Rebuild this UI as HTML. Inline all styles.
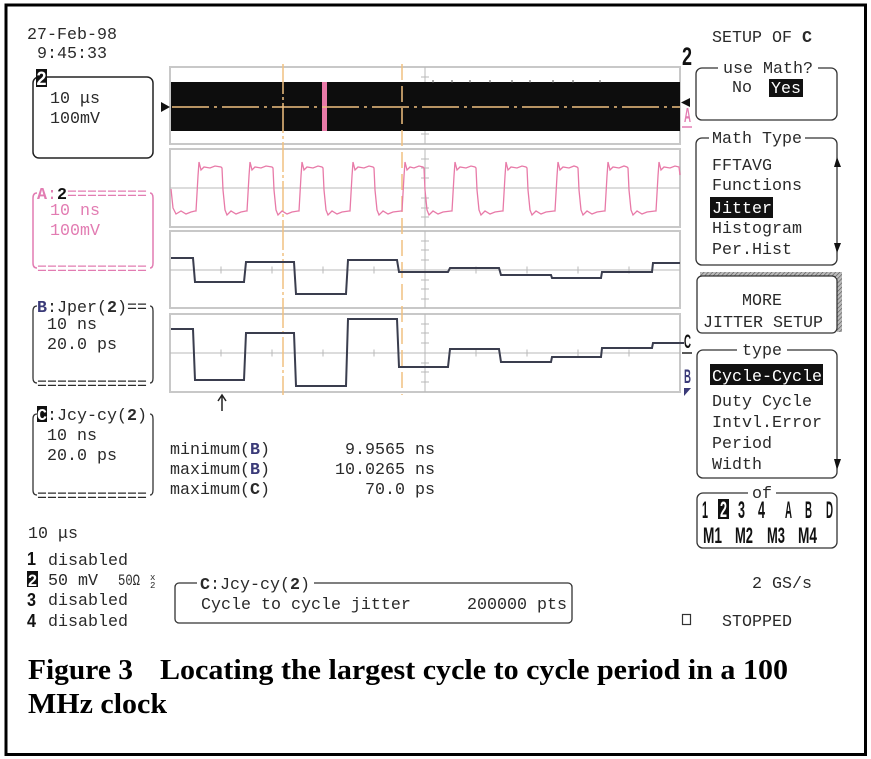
<!DOCTYPE html>
<html><head><meta charset="utf-8"><style>
html,body{margin:0;padding:0;background:#fff;}
svg{display:block;}
text{font-family:"Liberation Mono",monospace;font-size:16.67px;fill:#2a2a2a;}
.b{font-weight:bold;}
.pk{fill:#e27cb2;}
.nv{fill:#3a3a78;}
.w{fill:#fff;}
.sb{font-family:"Liberation Sans",sans-serif;font-weight:bold;}
.cap{font-family:"Liberation Serif",serif;font-weight:bold;font-size:28px;fill:#000;}
</style></head><body>
<svg width="871" height="759" viewBox="0 0 871 759" xmlns="http://www.w3.org/2000/svg">
<defs>
<pattern id="hat" width="3" height="3" patternUnits="userSpaceOnUse" patternTransform="rotate(45)">
<rect width="3" height="3" fill="#bbb"/><line x1="0" y1="0" x2="0" y2="3" stroke="#555" stroke-width="1.2"/>
</pattern>
</defs>
<rect x="0" y="0" width="871" height="759" fill="#fff"/>
<rect x="6" y="5" width="859.5" height="749.5" fill="none" stroke="#000" stroke-width="3"/>

<!-- top-left date -->
<text x="27" y="39">27-Feb-98</text>
<text x="37" y="58">9:45:33</text>

<!-- box 1 -->
<rect x="33" y="77" width="120" height="81" rx="6" fill="none" stroke="#222" stroke-width="1.5"/>
<rect x="36" y="69" width="11" height="18" fill="#111"/>
<text x="36.5" y="85" class="sb w" style="font-size:19px" textLength="10" lengthAdjust="spacingAndGlyphs">2</text>
<text x="50" y="103">10 μs</text>
<text x="50" y="123">100mV</text>

<!-- box 2 pink -->
<path d="M37,193 Q33,193 33,198 L33,263 Q33,268 37,268 M150,193 Q153,193 153,198 L153,263 Q153,268 150,268" fill="none" stroke="#e27cb2" stroke-width="1.5"/>
<text y="199"><tspan x="37" class="b pk">A</tspan><tspan class="pk">:</tspan><tspan class="b" fill="#111">2</tspan><tspan class="pk">========</tspan></text>
<text x="50" y="215" class="pk">10 ns</text>
<text x="50" y="235" class="pk">100mV</text>
<text x="37" y="274" class="pk">===========</text>

<!-- box 3 -->
<path d="M37,306 Q33,306 33,311 L33,378 Q33,383 37,383 M150,306 Q153,306 153,311 L153,378 Q153,383 150,383" fill="none" stroke="#333" stroke-width="1.3"/>
<text y="312"><tspan x="37" class="b nv">B</tspan><tspan>:Jper(</tspan><tspan class="b">2</tspan><tspan>)==</tspan></text>
<text x="47" y="329">10 ns</text>
<text x="47" y="349">20.0 ps</text>
<text x="37" y="389">===========</text>

<!-- box 4 -->
<path d="M37,414 Q33,414 33,419 L33,490 Q33,495 37,495 M150,414 Q153,414 153,419 L153,490 Q153,495 150,495" fill="none" stroke="#333" stroke-width="1.3"/>
<rect x="37" y="406" width="10" height="16" fill="#111"/>
<text y="420"><tspan x="37" class="b w">C</tspan><tspan>:Jcy-cy(</tspan><tspan class="b">2</tspan><tspan>)</tspan></text>
<text x="47" y="440">10 ns</text>
<text x="47" y="460">20.0 ps</text>
<text x="37" y="501">===========</text>

<!-- panels -->
<g fill="none" stroke="#c8c8c8" stroke-width="2">
<rect x="170" y="67" width="510" height="77"/>
<rect x="170" y="149" width="510" height="78"/>
<rect x="170" y="231" width="510" height="77"/>
<rect x="170" y="314" width="510" height="78"/>
</g>
<g stroke="#b8b8b8" stroke-width="1">
<line x1="425" y1="67" x2="425" y2="144"/>
<line x1="425" y1="149" x2="425" y2="227"/>
<line x1="425" y1="231" x2="425" y2="308"/>
<line x1="425" y1="314" x2="425" y2="392"/>
<line x1="170" y1="188" x2="680" y2="188"/>
<line x1="170" y1="270" x2="680" y2="270"/>
<line x1="170" y1="353" x2="680" y2="353"/>
<path d="M421,77H429M421,134H429
M421,159H429M421,168H429M421,178H429M421,198H429M421,208H429M421,217H429
M421,241H429M421,250H429M421,260H429M421,280H429M421,289H429M421,299H429
M421,324H429M421,333H429M421,343H429M421,363H429M421,372H429M421,382H429
M221,266.5V273.5M272,266.5V273.5M323,266.5V273.5M374,266.5V273.5M476,266.5V273.5M527,266.5V273.5M578,266.5V273.5M629,266.5V273.5
M221,349.5V356.5M272,349.5V356.5M323,349.5V356.5M374,349.5V356.5M476,349.5V356.5M527,349.5V356.5M578,349.5V356.5M629,349.5V356.5"/>
</g>

<!-- black band -->
<rect x="171" y="82" width="509" height="49" fill="#0d0d0d"/>
<rect x="322" y="82" width="5" height="49" fill="#e87aa8"/>
<line x1="172" y1="107" x2="680" y2="107" stroke="#f0c080" stroke-width="1.5" stroke-dasharray="37,5,3,5"/>
<g stroke="#555" stroke-width="1"><path d="M433,80V83M452,80V83M470,80V83M490,80V83M512,80V83M530,80V83M553,80V83M573,80V83M600,80V83"/></g>
<polygon points="161,102 170,107 161,112" fill="#111"/>
<polygon points="690,98 681,102.5 690,107" fill="#111"/>

<!-- cursors -->
<line x1="283" y1="64" x2="283" y2="395" stroke="#f0c080" stroke-width="1.5" stroke-dasharray="30,3,3,3"/>
<line x1="402" y1="64" x2="402" y2="395" stroke="#f0c080" stroke-width="1.5" stroke-dasharray="16,6"/>

<!-- pink waveform -->
<path fill="none" stroke="#e87aa8" stroke-width="1.3" d="M171,189 L173,208 L176,214 L181,211 L186,214 L191,212 L195,211
L196,211 L198,176 L199,162 L201,170 L204,167 L210,168 L215,166 L221,167 L222,168 L223,190 L225,210 L227,215 L231,211 L236,214 L241,212 L246,211
L247,211 L249,176 L250,162 L252,170 L255,167 L261,168 L266,166 L272,167 L273,168 L274,190 L276,210 L278,215 L282,211 L287,214 L292,212 L298,211
L299,211 L301,176 L302,162 L304,170 L307,167 L313,168 L318,166 L322,167 L323,168 L324,190 L326,210 L328,215 L332,211 L337,214 L342,212 L349,211
L350,211 L352,176 L353,162 L355,170 L358,167 L364,168 L369,166 L373,167 L374,168 L375,190 L377,210 L379,215 L383,211 L388,214 L393,212 L401,211
L402,211 L404,176 L405,162 L407,170 L410,167 L414,168 L419,166 L423,167 L424,168 L425,190 L427,210 L429,215 L433,211 L438,214 L443,212 L451,211
L452,211 L454,176 L455,162 L457,170 L460,167 L466,168 L471,166 L475,167 L476,168 L477,190 L479,210 L481,215 L485,211 L490,214 L495,212 L502,211
L503,211 L505,176 L506,162 L508,170 L511,167 L517,168 L522,166 L526,167 L527,168 L528,190 L530,210 L532,215 L536,211 L541,214 L546,212 L554,211
L555,211 L557,176 L558,162 L560,170 L563,167 L569,168 L574,166 L577,167 L578,168 L579,190 L581,210 L583,215 L587,211 L592,214 L597,212 L604,211
L605,211 L607,176 L608,162 L610,170 L613,167 L619,168 L624,166 L627,167 L628,168 L629,190 L631,210 L633,215 L637,211 L642,214 L647,212 L655,211
L656,211 L658,176 L659,162 L661,170 L664,167 L670,168 L675,166 L679,167 L680,175"/>

<!-- navy traces -->
<path fill="none" stroke="#3a3d4e" stroke-width="2" d="M171,258 L193,258 L195,282 L244,282 L246,262 L294,262 L296,294 L346,294 L348,260 L397,260 L399,272 L448,272 L450,268 L499,268 L501,275 L551,275 L552,278 L601,278 L602,272 L652,272 L653,263 L680,263"/>
<path fill="none" stroke="#3a3d4e" stroke-width="2" d="M171,329 L193,329 L195,380 L244,380 L246,333 L294,333 L296,386 L346,386 L348,319 L397,319 L399,367 L448,367 L450,349 L499,349 L501,362 L551,362 L552,357 L601,357 L602,348 L652,348 L653,343 L684,343"/>

<!-- arrow -->
<path d="M222,411 L222,396 M218,401 L222,395 L226,401" fill="none" stroke="#222" stroke-width="1.5"/>

<!-- right channel labels -->
<text x="682" y="65" class="sb" style="font-size:25px;fill:#111" textLength="10" lengthAdjust="spacingAndGlyphs">2</text>
<text x="684" y="122" class="sb pk" style="font-size:20px" textLength="7" lengthAdjust="spacingAndGlyphs">A</text>
<line x1="682" y1="127" x2="692" y2="127" stroke="#e27cb2" stroke-width="1.5"/>
<text x="684" y="348" class="sb" style="font-size:19px;fill:#111" textLength="7" lengthAdjust="spacingAndGlyphs">C</text>
<line x1="682" y1="353" x2="692" y2="353" stroke="#222" stroke-width="1.5"/>
<text x="684" y="383" class="sb nv" style="font-size:19px" textLength="7" lengthAdjust="spacingAndGlyphs">B</text>
<polygon points="684,388 691,388 684,396" fill="#3a3a78"/>

<!-- measurements -->
<text x="170" y="454">minimum(<tspan class="b nv">B</tspan>)</text>
<text x="170" y="474">maximum(<tspan class="b nv">B</tspan>)</text>
<text x="170" y="494">maximum(<tspan class="b">C</tspan>)</text>
<text x="435" y="454" text-anchor="end">9.9565 ns</text>
<text x="435" y="474" text-anchor="end">10.0265 ns</text>
<text x="435" y="494" text-anchor="end">70.0 ps</text>

<!-- bottom left -->
<text x="28" y="538">10 μs</text>
<text x="27" y="565" class="sb" style="font-size:18px;fill:#111" textLength="9" lengthAdjust="spacingAndGlyphs">1</text>
<text x="48" y="565">disabled</text>
<rect x="27" y="571" width="11" height="16" fill="#111"/>
<text x="28" y="586" class="sb w" style="font-size:17px" textLength="9" lengthAdjust="spacingAndGlyphs">2</text>
<text x="48" y="585">50 mV</text>
<text x="118" y="585" style="font-size:16px" textLength="22" lengthAdjust="spacingAndGlyphs">50Ω</text>
<text x="150" y="580" style="font-size:9px">x</text>
<text x="150" y="588" style="font-size:9px">2</text>
<text x="27" y="606" class="sb" style="font-size:18px;fill:#111" textLength="9" lengthAdjust="spacingAndGlyphs">3</text>
<text x="48" y="605">disabled</text>
<text x="27" y="627" class="sb" style="font-size:18px;fill:#111" textLength="9" lengthAdjust="spacingAndGlyphs">4</text>
<text x="48" y="626">disabled</text>

<!-- C:Jcy-cy box -->
<rect x="175" y="583" width="397" height="40" rx="4" fill="none" stroke="#333" stroke-width="1.3"/>
<rect x="197" y="575" width="117" height="16" fill="#fff"/>
<text y="589"><tspan x="200" class="b">C</tspan><tspan>:Jcy-cy(</tspan><tspan class="b">2</tspan><tspan>)</tspan></text>
<text x="201" y="609">Cycle to cycle jitter</text>
<text x="567" y="609" text-anchor="end">200000 pts</text>

<!-- right menu -->
<text x="712" y="42">SETUP OF <tspan class="b">C</tspan></text>

<rect x="696" y="68" width="141" height="52" rx="6" fill="none" stroke="#333" stroke-width="1.3"/>
<rect x="718" y="60" width="100" height="16" fill="#fff"/>
<text x="768" y="73" text-anchor="middle">use Math?</text>
<text x="732" y="92">No</text>
<rect x="769" y="79" width="34" height="18" fill="#111"/>
<text x="771" y="93" class="w">Yes</text>

<rect x="696" y="138" width="141" height="127" rx="6" fill="none" stroke="#333" stroke-width="1.3"/>
<rect x="709" y="130" width="96" height="16" fill="#fff"/>
<text x="712" y="143">Math Type</text>
<text x="712" y="170">FFTAVG</text>
<text x="712" y="190">Functions</text>
<rect x="710" y="197" width="63" height="21" fill="#111"/>
<text x="712" y="213" class="w">Jitter</text>
<text x="712" y="233">Histogram</text>
<text x="712" y="254">Per.Hist</text>
<polygon points="837,157 841,167 834,167" fill="#111"/>
<polygon points="834,243 841,243 837,253" fill="#111"/>

<rect x="700" y="272" width="142" height="5" fill="url(#hat)"/>
<rect x="837" y="272" width="5" height="60" fill="url(#hat)"/>
<rect x="697" y="276" width="140" height="57" rx="5" fill="#fff" stroke="#333" stroke-width="1.3"/>
<text x="762" y="305" text-anchor="middle">MORE</text>
<text x="763" y="327" text-anchor="middle">JITTER SETUP</text>

<rect x="697" y="350" width="140" height="128" rx="6" fill="none" stroke="#333" stroke-width="1.3"/>
<rect x="737" y="342" width="50" height="16" fill="#fff"/>
<text x="762" y="355" text-anchor="middle">type</text>
<rect x="710" y="364" width="113" height="21" fill="#111"/>
<text x="712" y="381" class="w">Cycle-Cycle</text>
<text x="712" y="406">Duty Cycle</text>
<text x="712" y="427">Intvl.Error</text>
<text x="712" y="448">Period</text>
<text x="712" y="469">Width</text>
<polygon points="834,459 841,459 837,470" fill="#111"/>

<rect x="697" y="493" width="140" height="55" rx="6" fill="none" stroke="#333" stroke-width="1.3"/>
<rect x="748" y="485" width="28" height="16" fill="#fff"/>
<text x="762" y="498" text-anchor="middle">of</text>
<text x="702" y="518" class="sb" style="font-size:24px;fill:#111" textLength="6" lengthAdjust="spacingAndGlyphs">1</text>
<rect x="718" y="499" width="11" height="20" fill="#111"/>
<text x="720" y="517" class="sb w" style="font-size:22px" textLength="7" lengthAdjust="spacingAndGlyphs">2</text>
<text x="738" y="518" class="sb" style="font-size:24px;fill:#111" textLength="7" lengthAdjust="spacingAndGlyphs">3</text>
<text x="758" y="518" class="sb" style="font-size:24px;fill:#111" textLength="7" lengthAdjust="spacingAndGlyphs">4</text>
<text x="785" y="518" class="sb" style="font-size:24px;fill:#111" textLength="7" lengthAdjust="spacingAndGlyphs">A</text>
<text x="805" y="518" class="sb" style="font-size:24px;fill:#111" textLength="7" lengthAdjust="spacingAndGlyphs">B</text>
<text x="826" y="518" class="sb" style="font-size:24px;fill:#111" textLength="7" lengthAdjust="spacingAndGlyphs">D</text>
<text x="703" y="543" class="sb" style="font-size:22px;fill:#111" textLength="19" lengthAdjust="spacingAndGlyphs">M1</text>
<text x="735" y="543" class="sb" style="font-size:22px;fill:#111" textLength="18" lengthAdjust="spacingAndGlyphs">M2</text>
<text x="767" y="543" class="sb" style="font-size:22px;fill:#111" textLength="18" lengthAdjust="spacingAndGlyphs">M3</text>
<text x="798" y="543" class="sb" style="font-size:22px;fill:#111" textLength="19" lengthAdjust="spacingAndGlyphs">M4</text>

<text x="752" y="588">2 GS/s</text>
<rect x="682.5" y="614.5" width="8" height="10" fill="none" stroke="#333" stroke-width="1.2"/>
<text x="722" y="626">STOPPED</text>

<!-- caption -->
<text x="28" y="679" class="cap" textLength="105" lengthAdjust="spacingAndGlyphs">Figure 3</text>
<text x="160" y="679" class="cap" textLength="628" lengthAdjust="spacingAndGlyphs">Locating the largest cycle to cycle period in a 100</text>
<text x="28" y="713" class="cap" textLength="139" lengthAdjust="spacingAndGlyphs">MHz clock</text>
</svg>
</body></html>
